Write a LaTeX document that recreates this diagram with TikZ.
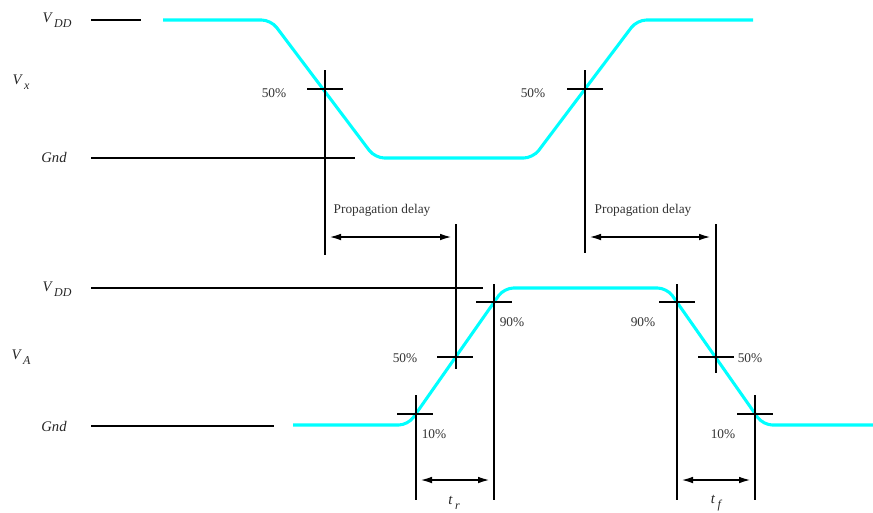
\documentclass[tikz,border=0pt]{standalone}
\usepackage{fontspec}
\setmainfont{Liberation Serif}
\usetikzlibrary{arrows.meta}
\newcommand{\sublbl}[2]{#1\kern2pt\raisebox{-0.7ex}{\fontsize{9pt}{10pt}\selectfont #2}}
\begin{document}
\begin{tikzpicture}[x=0.75pt,y=-0.75pt,
  wave/.style={draw={rgb,255:red,0;green,255;blue,255},line width=2.3pt,rounded corners=7pt,line join=round},
  rail/.style={draw=black,line width=1.4pt},
  tick/.style={draw=black,line width=1.4pt},
  span/.style={draw=black,line width=1.5pt,{Latex[length=9pt,width=5pt]}-{Latex[length=9pt,width=5pt]}},
  lbl/.style={font=\fontsize{10pt}{11pt}\selectfont,inner sep=0pt,text=black!80},
  vlbl/.style={font=\fontsize{11pt}{12pt}\selectfont\itshape,inner sep=0pt,text=black!85}]
\useasboundingbox (0,0) rectangle (873,512);

% ---------- input waveform V_x ----------
\node[vlbl] (vdd1) at (57,20) {\sublbl{V}{DD}};
\node[vlbl] (vx) at (21,82) {\sublbl{V}{x}};
\node[vlbl] (gnd1) at (54,157) {Gnd};
\coordinate (r1a) at (91,20);  \coordinate (r1b) at (141,20);
\coordinate (g1a) at (91,158); \coordinate (g1b) at (355,158);
\draw[rail] (r1a) -- (r1b);
\draw[rail] (g1a) -- (g1b);
\coordinate (w1s) at (163,20);
\coordinate (w1a) at (271,20);
\coordinate (w1b) at (375,158);
\coordinate (w1c) at (533,158);
\coordinate (w1d) at (637,20);
\coordinate (w1e) at (753,20);
\draw[wave] (w1s) -- (w1a) -- (w1b) -- (w1c) -- (w1d) -- (w1e);

% 50% marks on the input
\coordinate (x1t) at (325,70);  \coordinate (x1b) at (325,255);
\coordinate (x1l) at (307,89);  \coordinate (x1r) at (343,89);
\draw[tick] (x1t) -- (x1b); \draw[tick] (x1l) -- (x1r);
\node[lbl] (p1) at (274,93) {50\%};
\coordinate (x2t) at (585,70);  \coordinate (x2b) at (585,253);
\coordinate (x2l) at (567,89);  \coordinate (x2r) at (603,89);
\draw[tick] (x2t) -- (x2b); \draw[tick] (x2l) -- (x2r);
\node[lbl] (p2) at (533,93) {50\%};

% ---------- propagation delays ----------
\node[lbl] (pd1) at (382,210) {Propagation delay};
\node[lbl] (pd2) at (643,210) {Propagation delay};
\coordinate (a1l) at (329,237); \coordinate (a1r) at (452,237);
\coordinate (a2l) at (589,237); \coordinate (a2r) at (711,237);
\draw[span] (a1l) -- (a1r);
\draw[span] (a2l) -- (a2r);

% ---------- output waveform V_A ----------
\node[vlbl] (vdd2) at (57,289) {\sublbl{V}{DD}};
\node[vlbl] (va) at (21,357) {\sublbl{V}{A}};
\node[vlbl] (gnd2) at (54,426) {Gnd};
\coordinate (r2a) at (91,288);  \coordinate (r2b) at (483,288);
\coordinate (g2a) at (91,426);  \coordinate (g2b) at (274,426);
\draw[rail] (r2a) -- (r2b);
\draw[rail] (g2a) -- (g2b);
\coordinate (w2s) at (293,425);
\coordinate (w2a) at (408,425);
\coordinate (w2b) at (504,288);
\coordinate (w2c) at (667,288);
\coordinate (w2d) at (763,425);
\coordinate (w2e) at (873,425);
\draw[wave] (w2s) -- (w2a) -- (w2b) -- (w2c) -- (w2d) -- (w2e);

% rising edge marks
\coordinate (m10t) at (416,395); \coordinate (m10b) at (416,500);
\coordinate (m10l) at (397,414); \coordinate (m10r) at (433,414);
\draw[tick] (m10t) -- (m10b); \draw[tick] (m10l) -- (m10r);
\coordinate (m50t) at (456,224); \coordinate (m50b) at (456,369);
\coordinate (m50l) at (437,357); \coordinate (m50r) at (473,357);
\draw[tick] (m50t) -- (m50b); \draw[tick] (m50l) -- (m50r);
\coordinate (m90t) at (494,284); \coordinate (m90b) at (494,500);
\coordinate (m90l) at (476,302); \coordinate (m90r) at (512,302);
\draw[tick] (m90t) -- (m90b); \draw[tick] (m90l) -- (m90r);
\node[lbl] (q10) at (434,434) {10\%};
\node[lbl] (q50) at (405,358) {50\%};
\node[lbl] (q90) at (512,322) {90\%};

% falling edge marks
\coordinate (n90t) at (677,284); \coordinate (n90b) at (677,500);
\coordinate (n90l) at (659,302); \coordinate (n90r) at (695,302);
\draw[tick] (n90t) -- (n90b); \draw[tick] (n90l) -- (n90r);
\coordinate (n50t) at (716,224); \coordinate (n50b) at (716,373);
\coordinate (n50l) at (698,357); \coordinate (n50r) at (734,357);
\draw[tick] (n50t) -- (n50b); \draw[tick] (n50l) -- (n50r);
\coordinate (n10t) at (755,395); \coordinate (n10b) at (755,500);
\coordinate (n10l) at (737,414); \coordinate (n10r) at (773,414);
\draw[tick] (n10t) -- (n10b); \draw[tick] (n10l) -- (n10r);
\node[lbl] (s90) at (643,322) {90\%};
\node[lbl] (s50) at (750,358) {50\%};
\node[lbl] (s10) at (723,434) {10\%};

% rise and fall times
\coordinate (trl) at (420,480); \coordinate (trr) at (490,480);
\coordinate (tfl) at (681,480); \coordinate (tfr) at (751,480);
\draw[span] (trl) -- (trr);
\draw[span] (tfl) -- (tfr);
\node[vlbl] (tr) at (454,503) {\sublbl{t}{r}};
\node[vlbl] (tf) at (716,503) {\sublbl{t}{f}};
\end{tikzpicture}
\end{document}
